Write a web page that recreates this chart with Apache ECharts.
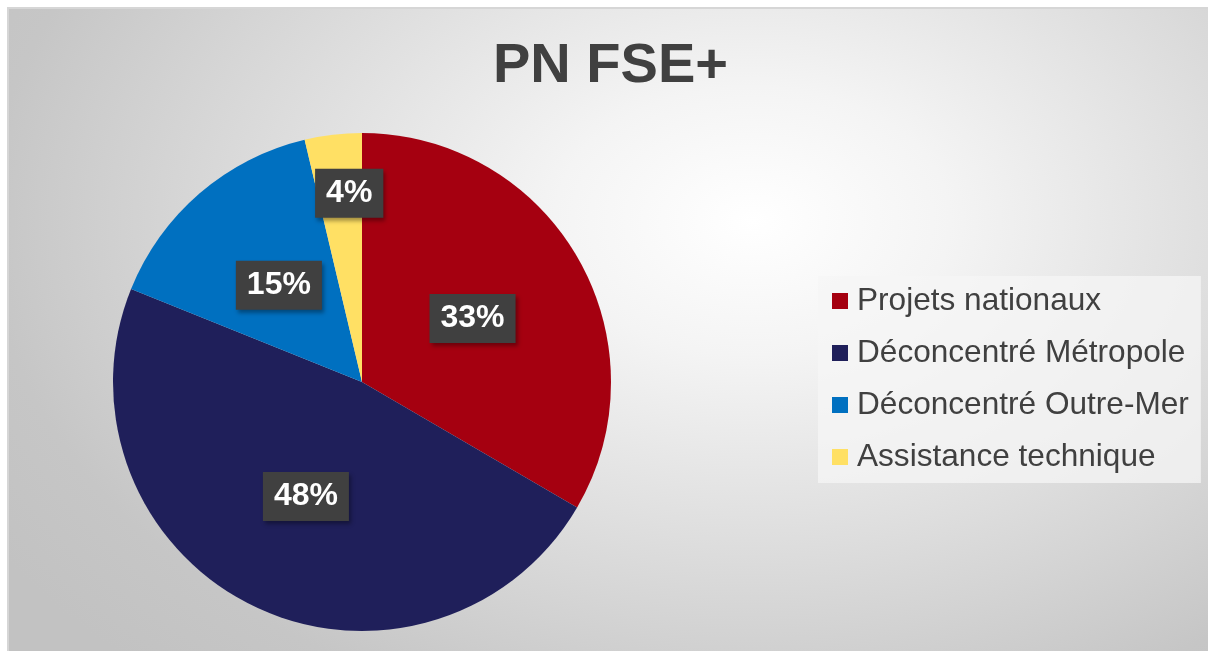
<!DOCTYPE html>
<html>
<head>
<meta charset="utf-8">
<script src="https://cdn.jsdelivr.net/npm/echarts@6/dist/echarts.min.js"></script>
<style>
  html, body { margin: 0; padding: 0; background: #ffffff; }
  #frame {
    position: absolute; left: 7px; top: 7px; width: 1199px; height: 642px;
    border-top: 2px solid #d6d6d6; border-left: 2px solid #d6d6d6;
    background: radial-gradient(ellipse 75% 95% at 62% 33%, #ffffff 0%, #f4f4f4 22%, #dcdcdc 55%, #c6c6c6 85%, #c2c2c2 100%);
  }
  #chart { position: absolute; left: 0; top: 0; width: 1208px; height: 655px; }
</style>
</head>
<body>
<div id="frame"></div>
<div id="chart"></div>
<script>
const title = 'PN FSE+';
const categories = ['Projets nationaux', 'Déconcentré Métropole', 'Déconcentré Outre-Mer', 'Assistance technique'];
const values = [33.4, 47.7, 15.2, 3.7];
const colors = ['#a50010', '#1f1f5a', '#0070c0', '#ffe064'];

const chart = echarts.init(document.getElementById('chart'), null, { renderer: 'canvas' });

const data = categories.map((name, i) => {
  const item = { name: name, value: values[i], itemStyle: { color: colors[i] } };
  if (i === 3) item.label = { offset: [2, -62] };
  return item;
});

chart.setOption({
  backgroundColor: 'transparent',
  animation: false,
  title: {
    text: title,
    left: 488,
    top: 34,
    textStyle: { fontFamily: 'Liberation Sans, Arial, sans-serif', fontSize: 56, fontWeight: 'bold', color: '#404040' }
  },
  legend: {
    orient: 'vertical',
    left: 818,
    top: 276,
    padding: [8, 12, 9, 14],
    backgroundColor: 'rgba(245,245,245,0.75)',
    itemWidth: 16,
    itemHeight: 16,
    itemGap: 18,
    icon: 'rect',
    data: categories,
    textStyle: { fontFamily: 'Liberation Sans, Arial, sans-serif', fontSize: 31.6, color: '#404040', lineHeight: 34, padding: [0, 0, 0, 4] }
  },
  series: [{
    type: 'pie',
    center: [362, 382],
    radius: 249,
    startAngle: 90,
    clockwise: true,
    silent: true,
    data: data,
    labelLine: { show: false },
    label: {
      show: true,
      position: 'inside',
      formatter: p => Math.round(p.percent) + '%',
      fontFamily: 'Liberation Sans, Arial, sans-serif',
      fontSize: 32,
      fontWeight: 'bold',
      color: '#ffffff',
      backgroundColor: '#404040',
      padding: [9, 11, 8, 11],
      shadowColor: 'rgba(0,0,0,0.35)',
      shadowBlur: 4,
      shadowOffsetX: 2,
      shadowOffsetY: 3
    }
  }]
});
</script>
</body>
</html>
